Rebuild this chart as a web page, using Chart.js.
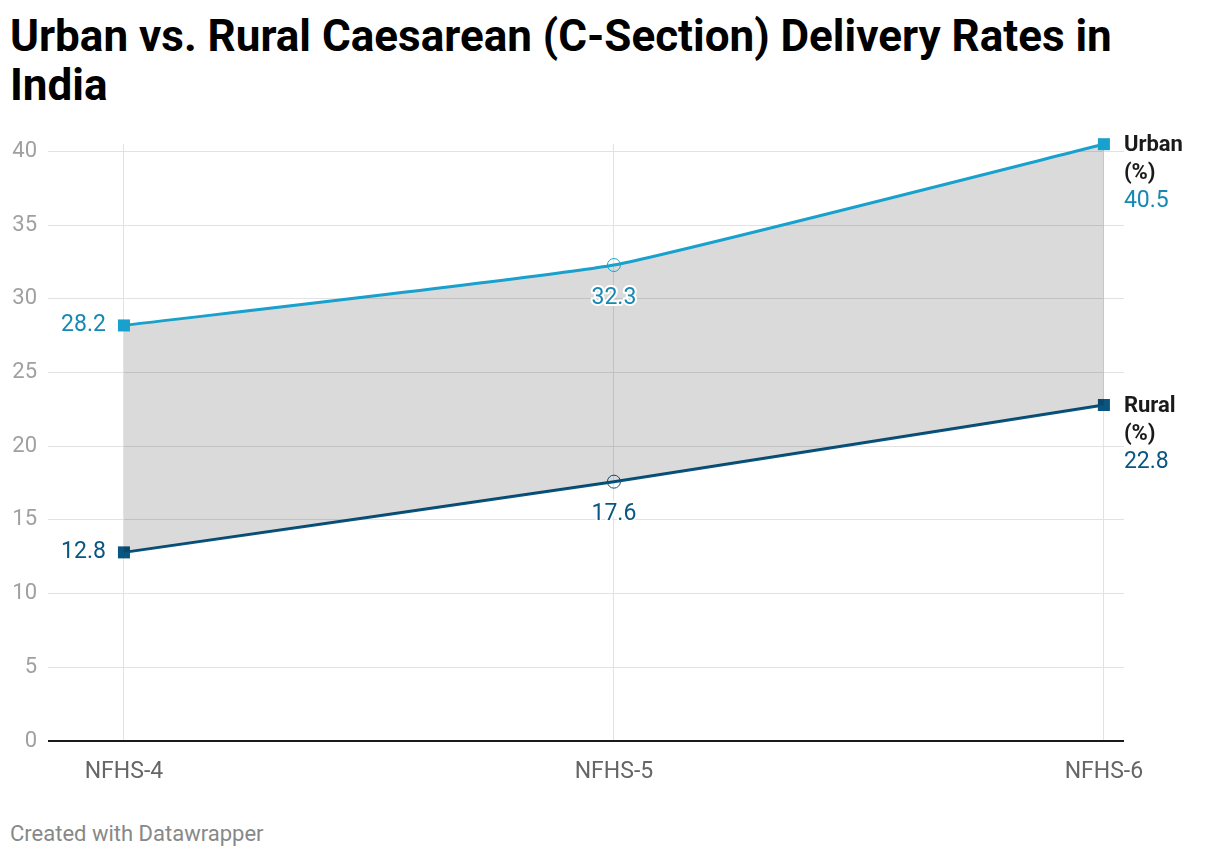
<!DOCTYPE html>
<html>
<head>
<meta charset="utf-8">
<script src="https://cdn.jsdelivr.net/npm/chart.js@4.4.0/dist/chart.umd.min.js"></script>
<style>
    html, body { margin: 0; padding: 0; background: #fff; }
    body { width: 1220px; height: 858px; position: relative; overflow: hidden; font-family: Roboto, sans-serif; }
    .title { position: absolute; left: 10px; top: 12px; width: 1140px; font-size: 44px; font-weight: 700; line-height: 49px; color: #000; }
    .footer { position: absolute; left: 10px; top: 821px; font-size: 22px; color: #888; }
    .chart-wrap { position: absolute; left: 0; top: 120px; width: 1220px; height: 680px; }
</style>
</head>
<body>
<div class="title">Urban vs. Rural Caesarean (C-Section) Delivery Rates in India</div>
<div class="chart-wrap"><canvas id="lineChart"></canvas></div>
<div class="footer">Created with Datawrapper</div>

<script>
// Data
const surveys = ['NFHS-4', 'NFHS-5', 'NFHS-6'];
const urbanValues = [28.2, 32.3, 40.5];
const ruralValues = [12.8, 17.6, 22.8];
const seriesNames = ['Urban', 'Rural'];
const yTicks = [0, 5, 10, 15, 20, 25, 30, 35, 40];

const urbanColor = '#18a1cd';
const ruralColor = '#09557f';
const urbanText = '#1688b3';
const ruralText = '#0a5682';

function toPoints(values) {
    return values.map((v, i) => ({ x: i, y: v }));
}

function pointStyles(n) {
    return Array.from({ length: n }, (_, i) => (i === 0 || i === n - 1) ? 'rect' : 'circle');
}

// Value labels drawn next to the points
const labelPlugin = {
    id: 'valueLabels',
    afterDatasetsDraw(chart) {
        const ctx = chart.ctx;
        const xs = chart.scales.x;
        const ys = chart.scales.y;
        const sets = [
            { values: urbanValues, color: urbanText, name: seriesNames[0] },
            { values: ruralValues, color: ruralText, name: seriesNames[1] }
        ];
        ctx.save();
        sets.forEach(s => {
            const last = s.values.length - 1;
            s.values.forEach((v, i) => {
                const px = xs.getPixelForValue(i);
                const py = ys.getPixelForValue(v);
                ctx.font = '23px Roboto';
                ctx.textBaseline = 'middle';
                if (i === 0) {
                    ctx.textAlign = 'right';
                    ctx.fillStyle = s.color;
                    ctx.fillText(v.toFixed(1), px - 18, py);
                } else if (i === last) {
                    ctx.textAlign = 'left';
                    ctx.font = 'bold 22px Roboto';
                    ctx.fillStyle = '#1a1a1a';
                    ctx.fillText(s.name, px + 20, py + 1);
                    ctx.fillText('(%)', px + 20, py + 29);
                    ctx.font = '23px Roboto';
                    ctx.fillStyle = s.color;
                    ctx.fillText(v.toFixed(1), px + 20, py + 57);
                } else {
                    ctx.textAlign = 'center';
                    ctx.lineWidth = 4;
                    ctx.lineJoin = 'round';
                    ctx.strokeStyle = '#fff';
                    ctx.strokeText(v.toFixed(1), px, py + 33);
                    ctx.fillStyle = s.color;
                    ctx.fillText(v.toFixed(1), px, py + 33);
                }
            });
        });
        ctx.restore();
    }
};

document.addEventListener('DOMContentLoaded', () => {
    const ctx = document.getElementById('lineChart');
    new Chart(ctx, {
        type: 'line',
        data: {
            datasets: [{
                label: seriesNames[0],
                data: toPoints(urbanValues),
                borderColor: urbanColor,
                backgroundColor: 'rgba(0, 0, 0, 0.145)',
                borderWidth: 3,
                fill: '+1',
                clip: false,
                tension: 0.12,
                pointStyle: pointStyles(urbanValues.length),
                pointRadius: [8.5, 6.5, 8.5],
                pointBackgroundColor: [urbanColor, 'rgba(0,0,0,0)', urbanColor],
                pointBorderColor: urbanColor,
                pointBorderWidth: [0, 1, 0]
            }, {
                label: seriesNames[1],
                data: toPoints(ruralValues),
                borderColor: ruralColor,
                backgroundColor: 'rgba(0, 0, 0, 0)',
                borderWidth: 3,
                fill: false,
                clip: false,
                tension: 0.12,
                pointStyle: pointStyles(ruralValues.length),
                pointRadius: [8.5, 6.5, 8.5],
                pointBackgroundColor: [ruralColor, 'rgba(0,0,0,0)', ruralColor],
                pointBorderColor: ruralColor,
                pointBorderWidth: [0, 1, 0]
            }]
        },
        options: {
            responsive: true,
            maintainAspectRatio: false,
            animation: false,
            layout: { padding: { left: 0, right: 96, top: 20, bottom: 0 } },
            plugins: {
                legend: { display: false },
                tooltip: { enabled: false }
            },
            scales: {
                x: {
                    type: 'linear',
                    min: -0.155,
                    max: 2.041,
                    afterBuildTicks: (axis) => { axis.ticks = surveys.map((_, i) => ({ value: i })); },
                    afterFit: (axis) => { axis.height = 59; },
                    border: { display: false },
                    grid: { color: '#e2e2e2', lineWidth: 1, drawTicks: false },
                    ticks: {
                        padding: 17,
                        color: '#666',
                        font: { family: 'Roboto', size: 23 },
                        maxRotation: 0,
                        callback: (value) => surveys[value] ?? ''
                    }
                },
                y: {
                    min: 0,
                    max: 40.5,
                    afterBuildTicks: (axis) => { axis.ticks = yTicks.map(v => ({ value: v })); },
                    afterFit: (axis) => { axis.width = 48; },
                    border: { display: false },
                    grid: {
                        color: (c) => c.tick && c.tick.value === 0 ? '#1a1a1a' : '#e2e2e2',
                        lineWidth: (c) => c.tick && c.tick.value === 0 ? 2 : 1,
                        drawTicks: false
                    },
                    ticks: {
                        padding: 11,
                        color: '#a0a0a0',
                        font: { family: 'Roboto', size: 22 }
                    }
                }
            }
        },
        plugins: [labelPlugin]
    });
});
</script>
</body>
</html>
